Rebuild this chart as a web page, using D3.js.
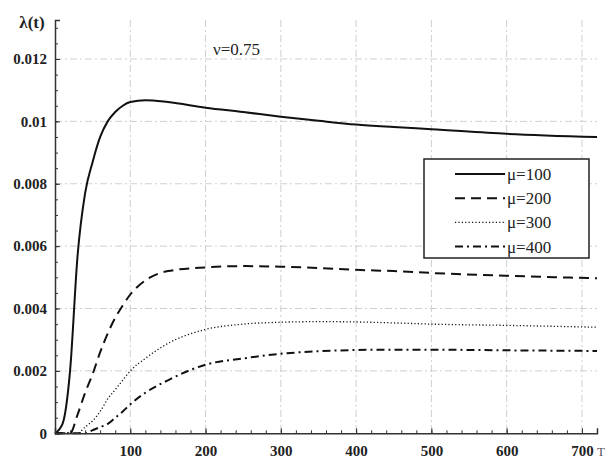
<!DOCTYPE html>
<html>
<head>
<meta charset="utf-8">
<script src="https://cdnjs.cloudflare.com/ajax/libs/d3/7.8.5/d3.min.js"></script>
<style>
  body { margin: 0; background: #fff; }
  svg { display: block; }
  svg text { font-family: 'Liberation Serif', 'DejaVu Serif', 'Times New Roman', Times, serif; fill: #222; }
</style>
</head>
<body>
<div id="chart"></div>
<script>
// time points (shared by all series)
var tVals = [0, 10, 20, 30, 40, 50, 60, 70, 80, 90, 100, 120, 150, 200, 250, 300, 350, 400, 450, 500, 600, 720];

// lambda(t)
var mu100 = [0, 0.0003, 0.002, 0.0057, 0.0077, 0.0087, 0.0095, 0.0100, 0.0103, 0.0105, 0.01062, 0.01068, 0.01062, 0.01044, 0.0103, 0.01015, 0.01002, 0.0099, 0.00982, 0.00975, 0.0096, 0.0095];
var mu200 = [0, 0, 0, 0.0006, 0.0013, 0.0019, 0.0026, 0.0032, 0.0037, 0.0041, 0.00445, 0.0049, 0.0052, 0.00532, 0.00536, 0.00534, 0.0053, 0.00524, 0.0052, 0.00514, 0.00505, 0.00497];
var mu300 = [0, 0, 0, 0, 0.0002, 0.0004, 0.0007, 0.0011, 0.0014, 0.0017, 0.002, 0.0024, 0.00288, 0.00333, 0.0035, 0.00356, 0.00358, 0.00357, 0.00354, 0.0035, 0.00346, 0.0034];
var mu400 = [0, 0, 0, 0, 0, 0.0001, 0.0002, 0.0003, 0.0005, 0.0007, 0.00093, 0.0013, 0.0017, 0.0022, 0.0024, 0.00255, 0.00263, 0.00267, 0.00268, 0.00268, 0.00266, 0.00264];

var seriesNames = ['\u03bc=100', '\u03bc=200', '\u03bc=300', '\u03bc=400'];
var xTicks = [100, 200, 300, 400, 500, 600, 700];
var yTicks = [0, 0.002, 0.004, 0.006, 0.008, 0.01, 0.012];

var w = 607, h = 460;

var x = d3.scaleLinear().domain([0, 720]).range([55, 597]);
var y = d3.scaleLinear().domain([0, 0.01325]).range([433.3, 20]);

var svg = d3.select('#chart').append('svg')
    .attr('width', w)
    .attr('height', h);

// grid
var grid = svg.append('g')
    .attr('stroke', '#cfcfcf')
    .attr('stroke-width', 1)
    .attr('stroke-dasharray', '7,3,2,3');
grid.selectAll('line.vg').data(xTicks).enter().append('line')
    .attr('x1', function(d) { return x(d); })
    .attr('x2', function(d) { return x(d); })
    .attr('y1', y(0.01325))
    .attr('y2', y(0));
grid.selectAll('line.hg').data(yTicks.slice(1)).enter().append('line')
    .attr('x1', x(0))
    .attr('x2', x(720))
    .attr('y1', function(d) { return y(d); })
    .attr('y2', function(d) { return y(d); });

// curves
var styles = [
    { dash: null, width: 2 },
    { dash: '10,6', width: 2 },
    { dash: '1.2,2.2', width: 1.3 },
    { dash: '8,4,2,4', width: 2 }
];
var allSeries = [mu100, mu200, mu300, mu400];

var line = d3.line()
    .x(function(d, i) { return x(tVals[i]); })
    .y(function(d) { return y(d); })
    .curve(d3.curveMonotoneX);

svg.selectAll('path.curve').data(allSeries).enter().append('path')
    .attr('class', 'curve')
    .attr('d', line)
    .attr('fill', 'none')
    .attr('stroke', '#111')
    .attr('stroke-width', function(d, i) { return styles[i].width; })
    .attr('stroke-dasharray', function(d, i) { return styles[i].dash; });

// axes
var axisColor = '#333';
var xAxis = svg.append('g')
    .attr('transform', 'translate(0,' + y(0) + ')')
    .call(d3.axisBottom(x).tickValues(xTicks).tickSize(-5).tickPadding(12).tickFormat(d3.format('d')));
var xMinor = svg.append('g')
    .attr('transform', 'translate(0,' + y(0) + ')')
    .call(d3.axisBottom(x).tickValues(d3.range(20, 721, 20)).tickSize(-3).tickFormat(''));
xMinor.select('.domain').remove();

var yAxis = svg.append('g')
    .attr('transform', 'translate(' + x(0) + ',0)')
    .call(d3.axisLeft(y).tickValues(yTicks).tickSize(-5).tickPadding(8)
        .tickFormat(function(d) { return d === 0 ? '0' : String(+d.toFixed(3)); }));
var yMinor = svg.append('g')
    .attr('transform', 'translate(' + x(0) + ',0)')
    .call(d3.axisLeft(y).tickValues(d3.range(0.0005, 0.0131, 0.0005)).tickSize(-3).tickFormat(''));
yMinor.select('.domain').remove();

// d3 puts font-family="sans-serif" on the axis groups, drop it
svg.selectAll('g').attr('font-family', null);

svg.selectAll('.domain').attr('stroke', axisColor).attr('stroke-width', 1.5);
svg.selectAll('.tick line').attr('stroke', axisColor).attr('stroke-width', 1);
svg.selectAll('.tick text')
    .attr('font-size', '15px')
    .attr('font-weight', 'bold');

// axis titles
svg.append('text')
    .attr('x', 32).attr('y', 28)
    .attr('text-anchor', 'middle')
    .attr('font-size', '17px')
    .attr('font-weight', 'bold')
    .text('\u03bb(t)');
svg.append('text')
    .attr('x', 597).attr('y', 456)
    .attr('font-size', '13px')
    .style('fill', '#555')
    .text('T');

// annotation
svg.append('text')
    .attr('x', 213).attr('y', 55)
    .attr('font-size', '17px')
    .text('\u03bd=0.75');

// legend
var legend = svg.append('g');
legend.append('rect')
    .attr('x', 424).attr('y', 159)
    .attr('width', 165).attr('height', 99)
    .attr('fill', '#fff')
    .attr('stroke', '#222')
    .attr('stroke-width', 1.5);
var legRows = legend.selectAll('g.row').data(seriesNames).enter().append('g')
    .attr('transform', function(d, i) { return 'translate(0,' + (174 + i * 24.2) + ')'; });
legRows.append('line')
    .attr('x1', 455).attr('x2', 505)
    .attr('y1', 0).attr('y2', 0)
    .attr('stroke', '#111')
    .attr('stroke-width', function(d, i) { return styles[i].width; })
    .attr('stroke-dasharray', function(d, i) { return styles[i].dash; });
legRows.append('text')
    .attr('x', 507).attr('y', 6)
    .attr('font-size', '17px')
    .text(function(d) { return d; });
</script>
</body>
</html>
